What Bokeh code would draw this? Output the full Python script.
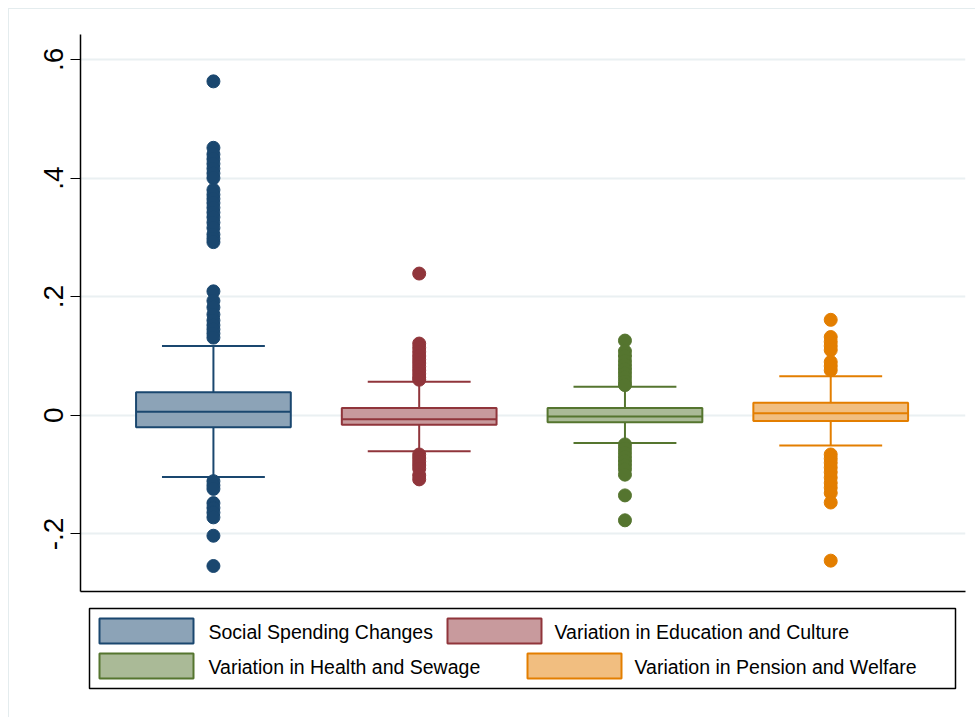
from bokeh.plotting import figure
from bokeh.models import Range1d, FixedTicker, ColumnDataSource
from bokeh.layouts import column
from bokeh.core.properties import value
from bokeh.embed import file_html
from bokeh.resources import INLINE

# ---------------- data ----------------
categories = ["Social Spending Changes", "Variation in Education and Culture",
              "Variation in Health and Sewage", "Variation in Pension and Welfare"]
q1 = [-0.020, -0.0157, -0.0118, -0.0095]
median = [0.006, -0.0065, -0.002, 0.0034]
q3 = [0.039, 0.0125, 0.0123, 0.0212]
lower_whisker = [-0.104, -0.0605, -0.0465, -0.051]
upper_whisker = [0.117, 0.0565, 0.0482, 0.066]

outliers_social = [0.563, 0.451, 0.440, 0.432, 0.424, 0.416, 0.408, 0.400, 0.380, 0.372,
                   0.365, 0.358, 0.350, 0.342, 0.334, 0.325, 0.316, 0.305, 0.298, 0.292,
                   0.209, 0.193, 0.182, 0.170, 0.160, 0.152, 0.145, 0.138, 0.131,
                   -0.111, -0.118, -0.124, -0.148, -0.156, -0.164, -0.172, -0.203, -0.254]
outliers_education = [0.239, 0.121, 0.114, 0.107, 0.100, 0.094, 0.088, 0.082, 0.076, 0.070,
                      0.064, 0.060, -0.066, -0.072, -0.078, -0.084, -0.090, -0.101, -0.108]
outliers_health = [0.126, 0.108, 0.100, 0.092, 0.085, 0.078, 0.071, 0.064, 0.057, 0.051,
                   -0.049, -0.056, -0.063, -0.070, -0.077, -0.084, -0.091, -0.100, -0.135, -0.177]
outliers_pension = [0.161, 0.132, 0.124, 0.117, 0.110, 0.090, 0.083, 0.076,
                    -0.066, -0.073, -0.080, -0.088, -0.096, -0.105, -0.114, -0.122, -0.131,
                    -0.147, -0.245]
outliers = [outliers_social, outliers_education, outliers_health, outliers_pension]

y_ticks = [-0.2, 0, 0.2, 0.4, 0.6]
y_tick_labels = ["-.2", "0", ".2", ".4", ".6"]

line_colors = ["#1A476F", "#90353B", "#55752F", "#E37E00"]
fill_colors = ["#8CA3B7", "#C89A9D", "#AABA97", "#F1BE80"]

FONT = "Liberation Sans"
GRID = "#EAF0F2"

# ---------------- main plot ----------------
xs = [i + 1 for i in range(len(categories))]
half_box = 0.376
half_cap = 0.25

p = figure(width=966, height=590, x_range=Range1d(0.354, 4.655), y_range=Range1d(-0.297, 0.642),
           output_backend="svg", toolbar_location=None,
           min_border_left=71, min_border_top=25, min_border_right=10, min_border_bottom=8)
p.background_fill_color = "white"
p.border_fill_color = "white"
p.outline_line_color = None

p.xgrid.grid_line_color = None
p.ygrid.grid_line_color = GRID
p.ygrid.grid_line_width = 2
p.ygrid.ticker = FixedTicker(ticks=y_ticks)

p.yaxis.ticker = FixedTicker(ticks=y_ticks)
p.yaxis.major_label_overrides = {t: l for t, l in zip(y_ticks, y_tick_labels)}
p.yaxis.major_label_orientation = "vertical"
p.yaxis.major_label_text_font = FONT
p.yaxis.major_label_text_font_size = "28px"
p.yaxis.major_label_text_color = "black"
p.yaxis.major_label_standoff = 7
p.yaxis.major_tick_out = 10
p.yaxis.major_tick_in = 0
p.yaxis.minor_tick_out = 0
p.yaxis.minor_tick_in = 0
p.yaxis.axis_line_color = "black"
p.yaxis.axis_line_width = 1.5
p.yaxis.major_tick_line_color = "black"

p.xaxis.ticker = FixedTicker(ticks=[])
p.xaxis.major_label_text_font_size = "0px"
p.xaxis.major_label_standoff = 0
p.xaxis.major_tick_out = 0
p.xaxis.minor_tick_out = 0
p.xaxis.axis_line_color = "black"
p.xaxis.axis_line_width = 1.5

for i, x in enumerate(xs):
    lc, fc = line_colors[i], fill_colors[i]
    # whiskers
    p.segment(x0=[x, x], y0=[q3[i], q1[i]], x1=[x, x], y1=[upper_whisker[i], lower_whisker[i]],
              line_color=lc, line_width=2)
    # caps
    p.segment(x0=[x - half_cap, x - half_cap], y0=[upper_whisker[i], lower_whisker[i]],
              x1=[x + half_cap, x + half_cap], y1=[upper_whisker[i], lower_whisker[i]],
              line_color=lc, line_width=2)
    # box
    p.quad(left=[x - half_box], right=[x + half_box], bottom=[q1[i]], top=[q3[i]],
           fill_color=fc, line_color=lc, line_width=2)
    # median
    p.segment(x0=[x - half_box], y0=[median[i]], x1=[x + half_box], y1=[median[i]],
              line_color=lc, line_width=2)
    # outliers
    src = ColumnDataSource(dict(x=[x] * len(outliers[i]), y=outliers[i]))
    p.scatter("x", "y", source=src, size=13, fill_color=lc, line_color=lc)

# ---------------- legend panel ----------------
# the column aligns this panel's frame with the main frame (page x 80..965)
lf = figure(width=966, height=118, x_range=Range1d(80, 965), y_range=Range1d(717, 599),
            output_backend="svg", toolbar_location=None,
            min_border_left=71, min_border_right=10, min_border_top=0, min_border_bottom=0,
            x_axis_type=None, y_axis_type=None)
lf.grid.visible = False
lf.outline_line_color = None
lf.background_fill_color = "white"
lf.border_fill_color = "white"

lf.quad(left=[89], right=[955], top=[608], bottom=[688], fill_color=None,
        line_color="black", line_width=1.5)

sw_left = [99, 447, 99, 527]
sw_top = [618, 618, 653, 653]
txt_x = [208, 554, 208, 634]
sw_w, sw_h = 94, 25
lf.quad(left=sw_left, right=[l + sw_w for l in sw_left], top=sw_top,
        bottom=[t + sw_h for t in sw_top], fill_color=fill_colors, line_color=line_colors,
        line_width=2)
lf.text(x=txt_x, y=[t + sw_h / 2 + 1 for t in sw_top], text=categories,
        text_font=value(FONT), text_font_size="19.5px", text_baseline="middle",
        text_align="left", text_color="black")

layout = column(p, lf, margin=(8, 0, 0, 8), spacing=0,
                styles={"border-left": "1px solid #E4ECEE", "border-top": "1px solid #E4ECEE"})

open("out.html", "w").write(file_html(layout, INLINE))
